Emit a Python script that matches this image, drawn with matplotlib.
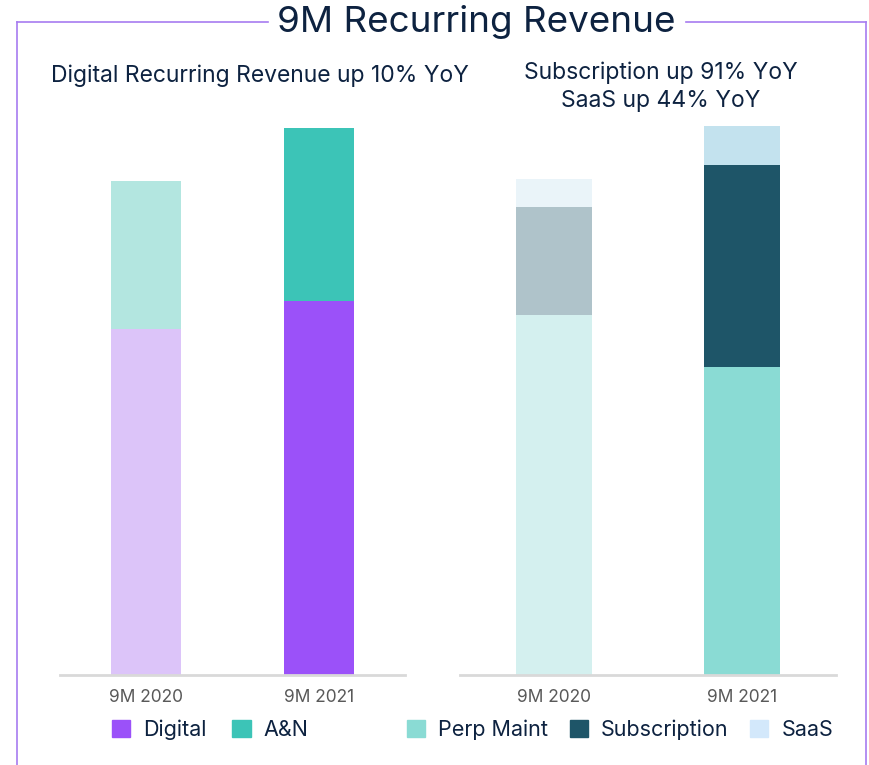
import matplotlib.pyplot as plt
from matplotlib.patches import Patch
from matplotlib.lines import Line2D

plt.rcParams['font.family'] = ['Inter', 'DejaVu Sans']

periods = ["9M 2020", "9M 2021"]

# left panel (digital recurring revenue)
digital = [346, 374]
an = [148, 173]

# right panel
perp_maint = [360, 308]
subscription = [108, 202]
saas = [28, 39]

navy = "#0d2240"
frame_col = "#a77cf0"

fig = plt.figure(figsize=(8.69, 7.65), dpi=100)

ax1 = fig.add_axes([60 / 869, 90 / 765, 345 / 869, 575 / 765])
ax2 = fig.add_axes([460 / 869, 90 / 765, 376 / 869, 575 / 765])

x = [0, 1]
ax1.bar(x, digital, width=0.405, color=["#dcc4f9", "#9b51f9"])
ax1.bar(x, an, width=0.405, bottom=digital, color=["#b3e6e0", "#3cc4b7"])

bot2 = [p + s for p, s in zip(perp_maint, subscription)]
ax2.bar(x, perp_maint, width=0.405, color=["#d4f0ef", "#8adbd4"])
ax2.bar(x, subscription, width=0.405, bottom=perp_maint, color=["#afc3ca", "#1e5568"])
ax2.bar(x, saas, width=0.405, bottom=bot2, color=["#eaf4f9", "#c3e2ee"])

for ax in (ax1, ax2):
    ax.set_xlim(-0.5, 1.5)
    ax.set_ylim(0, 575)
    ax.set_xticks(x)
    ax.set_xticklabels(periods, fontsize=12.5, color="#595959")
    ax.tick_params(axis="x", length=0, pad=10)
    ax.set_yticks([])
    for s in ["top", "right", "left"]:
        ax.spines[s].set_visible(False)
    ax.spines["bottom"].set_color("#d9d9d9")
    ax.spines["bottom"].set_linewidth(2)

# legends
h1 = [Patch(color="#9b51f9", label="Digital"), Patch(color="#3cc4b7", label="A&N")]
ax1.legend(handles=h1, loc="center", bbox_to_anchor=(150 / 345, -0.095), ncol=2,
           frameon=False, fontsize=15.5, handlelength=0.85, handleheight=0.85,
           handletextpad=0.6, columnspacing=1.2, labelcolor=navy)
h2 = [Patch(color="#8adbd4", label="Perp Maint"), Patch(color="#1e5568", label="Subscription"),
      Patch(color="#d3e8fb", label="SaaS")]
ax2.legend(handles=h2, loc="center", bbox_to_anchor=(160 / 376, -0.095), ncol=3,
           frameon=False, fontsize=15.5, handlelength=0.85, handleheight=0.85,
           handletextpad=0.6, columnspacing=1.0, labelcolor=navy)

# title and frame
y_top = 1 - 22 / 765
fig.text(476 / 869, y_top, "9M Recurring Revenue", ha="center", va="center",
         fontsize=26.5, color=navy)
fig.add_artist(Line2D([17 / 869, 268 / 869], [y_top, y_top], color=frame_col, lw=1.2))
fig.add_artist(Line2D([686 / 869, 866 / 869], [y_top, y_top], color=frame_col, lw=1.2))
fig.add_artist(Line2D([17 / 869, 17 / 869], [0, y_top], color=frame_col, lw=1.2))
fig.add_artist(Line2D([866 / 869, 866 / 869], [0, y_top], color=frame_col, lw=1.2))

fig.text(260 / 869, 1 - 76 / 765, "Digital Recurring Revenue up 10% YoY",
         ha="center", va="center", fontsize=16.5, color=navy)
fig.text(661 / 869, 1 - 87 / 765, "Subscription up 91% YoY\nSaaS up 44% YoY",
         ha="center", va="center", fontsize=16.5, color=navy, linespacing=1.35)

plt.savefig("out.png", dpi=100)
